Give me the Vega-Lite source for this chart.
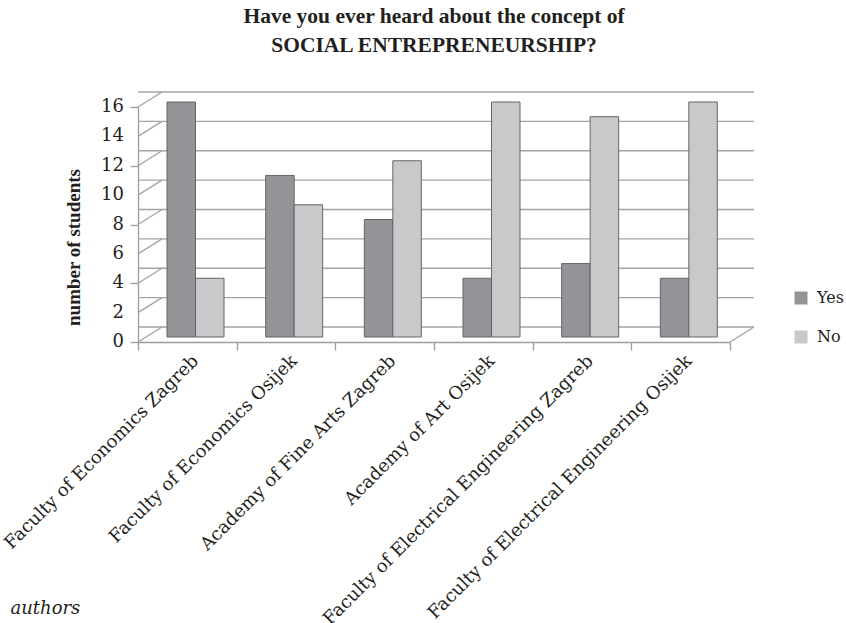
{
  "$schema": "https://vega.github.io/schema/vega-lite/v6.json",
  "autosize": {"type": "none"},
  "padding": {"left": 138, "top": 107, "right": 116, "bottom": 281},
  "width": 592,
  "height": 235,
  "background": "white",
  "title": {
    "text": ["Have you ever heard about the concept of", "SOCIAL ENTREPRENEURSHIP?"],
    "font": "Liberation Serif",
    "fontSize": 21.5,
    "fontWeight": "bold",
    "lineHeight": 29,
    "color": "#231f20",
    "anchor": "middle",
    "offset": 35
  },
  "datasets": {
    "bars": [
      {"faculty": "Faculty of Economics Zagreb", "answer": "Yes", "students": 16},
      {"faculty": "Faculty of Economics Zagreb", "answer": "No", "students": 4},
      {"faculty": "Faculty of Economics Osijek", "answer": "Yes", "students": 11},
      {"faculty": "Faculty of Economics Osijek", "answer": "No", "students": 9},
      {"faculty": "Academy of Fine Arts Zagreb", "answer": "Yes", "students": 8},
      {"faculty": "Academy of Fine Arts Zagreb", "answer": "No", "students": 12},
      {"faculty": "Academy of Art Osijek", "answer": "Yes", "students": 4},
      {"faculty": "Academy of Art Osijek", "answer": "No", "students": 16},
      {"faculty": "Faculty of Electrical Engineering Zagreb", "answer": "Yes", "students": 5},
      {"faculty": "Faculty of Electrical Engineering Zagreb", "answer": "No", "students": 15},
      {"faculty": "Faculty of Electrical Engineering Osijek", "answer": "Yes", "students": 4},
      {"faculty": "Faculty of Electrical Engineering Osijek", "answer": "No", "students": 16}
    ],
    "grid": [{"v": 0}, {"v": 2}, {"v": 4}, {"v": 6}, {"v": 8}, {"v": 10}, {"v": 12}, {"v": 14}, {"v": 16}]
  },
  "config": {
    "view": {"stroke": null},
    "axis": {
      "labelFont": "DejaVu Serif",
      "labelFontSize": 18,
      "labelColor": "#231f20",
      "labelLimit": 0,
      "titleFont": "Liberation Serif",
      "titleFontSize": 19,
      "titleFontWeight": "bold",
      "titleColor": "#231f20",
      "domainColor": "#9d9d9d",
      "tickColor": "#9d9d9d",
      "domainWidth": 1.3,
      "tickWidth": 1.3,
      "tickSize": 8
    },
    "legend": {
      "labelFont": "DejaVu Serif",
      "labelFontSize": 16,
      "labelColor": "#231f20",
      "labelLimit": 0
    }
  },
  "layer": [
    {
      "data": {"name": "grid"},
      "mark": {"type": "rule", "color": "#a3a3a3", "strokeWidth": 1.3, "xOffset": 24, "yOffset": -15},
      "encoding": {
        "y": {
          "field": "v",
          "type": "quantitative",
          "scale": {"domain": [0, 16]},
          "axis": {
            "title": "number of students",
            "values": [0, 2, 4, 6, 8, 10, 12, 14, 16],
            "labels": false,
            "grid": false,
            "titleY": 140,
            "titlePadding": 46
          }
        }
      }
    },
    {
      "data": {"name": "grid"},
      "mark": {"type": "rule", "color": "#a3a3a3", "strokeWidth": 1.3, "x2Offset": 24, "y2Offset": -15},
      "encoding": {
        "x": {"datum": "Faculty of Economics Zagreb", "type": "nominal", "bandPosition": 0},
        "x2": {"datum": "Faculty of Economics Zagreb", "bandPosition": 0},
        "y": {"field": "v", "type": "quantitative"},
        "y2": {"field": "v"}
      }
    },
    {
      "data": {"name": "grid"},
      "mark": {"type": "text", "align": "right", "baseline": "middle", "dx": -14, "font": "DejaVu Serif", "fontSize": 18, "color": "#231f20"},
      "encoding": {
        "x": {"datum": "Faculty of Economics Zagreb", "type": "nominal", "bandPosition": 0},
        "y": {"field": "v", "type": "quantitative"},
        "text": {"field": "v", "type": "quantitative"}
      }
    },
    {
      "data": {"values": [{"v": 0}]},
      "mark": {"type": "rule", "color": "#a3a3a3", "strokeWidth": 1.3, "x2Offset": 24, "y2Offset": -15},
      "encoding": {
        "x": {"datum": "Faculty of Electrical Engineering Osijek", "type": "nominal", "bandPosition": 1},
        "x2": {"datum": "Faculty of Electrical Engineering Osijek", "bandPosition": 1},
        "y": {"field": "v", "type": "quantitative"},
        "y2": {"field": "v"}
      }
    },
    {
      "data": {"name": "bars"},
      "mark": {"type": "bar", "stroke": "#636466", "strokeWidth": 1, "yOffset": -5, "y2Offset": -5},
      "encoding": {
        "x": {
          "field": "faculty",
          "type": "nominal",
          "sort": null,
          "scale": {
            "domain": ["Faculty of Economics Zagreb", "Faculty of Economics Osijek", "Academy of Fine Arts Zagreb", "Academy of Art Osijek", "Faculty of Electrical Engineering Zagreb", "Faculty of Electrical Engineering Osijek"],
            "paddingInner": 0,
            "paddingOuter": 0
          },
          "axis": {
            "labelAngle": -45,
            "tickBand": "extent",
            "labelPadding": 8,
            "labelOffset": 8,
            "title": "authors",
            "titleFont": "DejaVu Serif",
            "titleFontSize": 18,
            "titleFontWeight": "normal",
            "titleFontStyle": "italic",
            "titleAnchor": "start",
            "titleAlign": "left",
            "titleBaseline": "alphabetic",
            "titleX": -128,
            "titleY": 271
          }
        },
        "xOffset": {
          "field": "answer",
          "type": "nominal",
          "sort": ["Yes", "No"],
          "scale": {"range": [29, 86], "paddingInner": 0, "paddingOuter": 0}
        },
        "y": {
          "field": "students",
          "type": "quantitative",
          "scale": {"domain": [0, 16]}
        },
        "color": {
          "field": "answer",
          "type": "nominal",
          "sort": ["Yes", "No"],
          "scale": {"domain": ["Yes", "No"], "range": ["#939497", "#c8c9cb"]},
          "legend": {
            "title": null,
            "orient": "none",
            "legendX": 655,
            "legendY": 183,
            "symbolType": "square",
            "symbolSize": 169,
            "symbolStrokeWidth": 0,
            "rowPadding": 23,
            "labelOffset": 8
          }
        }
      }
    }
  ]
}
